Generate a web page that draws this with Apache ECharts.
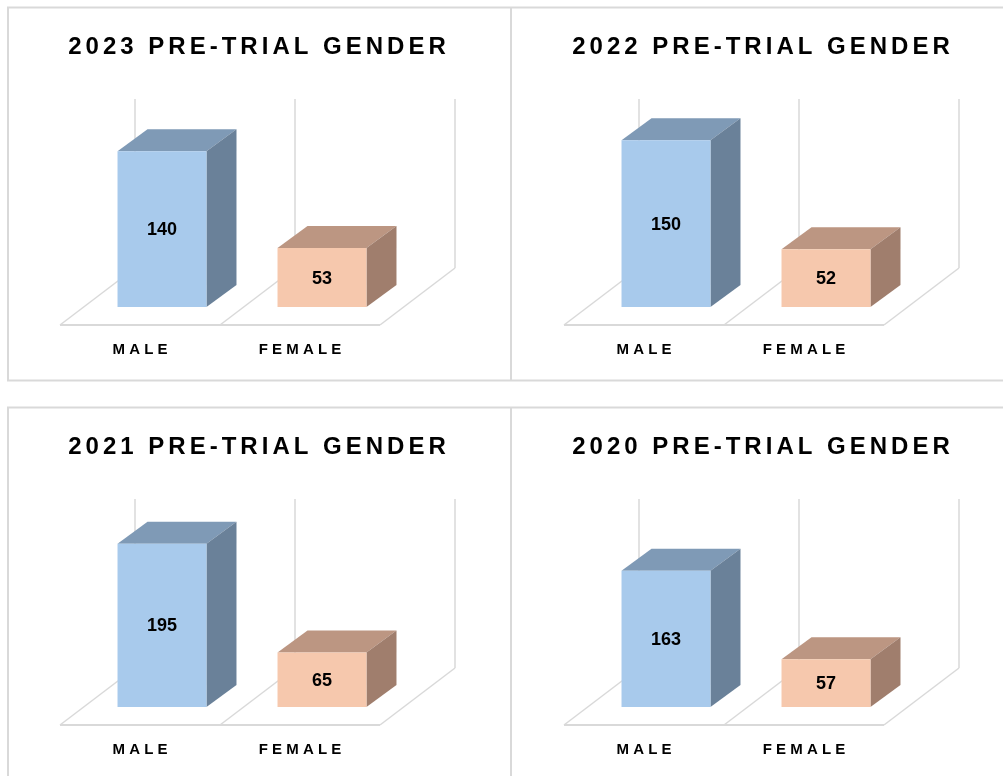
<!DOCTYPE html>
<html>
<head>
<meta charset="utf-8">
<script src="https://cdn.jsdelivr.net/npm/echarts@6/dist/echarts.min.js"></script>
<style>
  html, body { margin: 0; padding: 0; background: #fff; }
  #chart { width: 1003px; height: 776px; }
</style>
</head>
<body>
<div id="chart"></div>
<script>
// data
const years = ['2023', '2022', '2021', '2020'];
const genders = ['MALE', 'FEMALE'];
const maleCounts = [140, 150, 195, 163];
const femaleCounts = [53, 52, 65, 57];
const axisMax = [152, 152, 202, 202];

// panel offsets (one cell per year)
const panels = [[0, 0], [504, 0], [0, 400], [504, 400]];

// fake 3d geometry, in pixels
const FRONT = [22, -18];        // floor front edge -> bar front face
const BAR_DEPTH = [30, -22];
const FLOOR_DEPTH = [75, -57];

const faceColors = [
  { front: '#a8caec', top: '#7f9ab6', side: '#6a8199' },
  { front: '#f6c8ad', top: '#bc9682', side: '#a07e6d' }
];
const lineColor = '#d9d9d9';
const FONT = '"Liberation Sans", Arial, sans-serif';

// no letterSpacing in zrender, so pad letters with hair spaces
const spaced = (s, gap) => s.split('').join(gap);

const chart = echarts.init(document.getElementById('chart'));

// floor + back wall lines, one cell per category
function renderFrame(max) {
  return function (params, api) {
    const i = api.value(0);
    const base = api.coord([i, 0]);
    const top = api.coord([i, max]);
    const band = api.size([1, 0])[0];
    const y0 = base[1];
    const edges = [base[0] - band / 2];
    if (i === genders.length - 1) edges.push(base[0] + band / 2);
    const style = { stroke: lineColor, lineWidth: 1.5 };
    const children = [{
      type: 'line',
      shape: { x1: base[0] - band / 2, y1: y0, x2: base[0] + band / 2, y2: y0 },
      style: { stroke: lineColor, lineWidth: 2 }
    }];
    edges.forEach(x => {
      children.push({
        type: 'line',
        shape: { x1: x, y1: y0, x2: x + FLOOR_DEPTH[0], y2: y0 + FLOOR_DEPTH[1] },
        style: style
      });
      children.push({
        type: 'line',
        shape: {
          x1: x + FLOOR_DEPTH[0], y1: y0 + FLOOR_DEPTH[1],
          x2: x + FLOOR_DEPTH[0], y2: top[1] + FLOOR_DEPTH[1]
        },
        style: style
      });
    });
    return { type: 'group', children: children };
  };
}

function renderBar(params, api) {
  const i = api.value(0);
  const val = api.value(1);
  const base = api.coord([i, 0]);
  const top = api.coord([i, val]);
  const bw = api.size([1, 0])[0] * 0.556;
  const x0 = base[0] - bw / 2 + FRONT[0];
  const x1 = x0 + bw;
  const yB = base[1] + FRONT[1];
  const yT = top[1] + FRONT[1];
  const dx = BAR_DEPTH[0], dy = BAR_DEPTH[1];
  const c = faceColors[i];
  return {
    type: 'group',
    children: [
      {
        type: 'polygon',
        shape: { points: [[x0, yT], [x1, yT], [x1 + dx, yT + dy], [x0 + dx, yT + dy]] },
        style: { fill: c.top }
      },
      {
        type: 'polygon',
        shape: { points: [[x1, yT], [x1 + dx, yT + dy], [x1 + dx, yB + dy], [x1, yB]] },
        style: { fill: c.side }
      },
      {
        type: 'rect',
        shape: { x: x0, y: yT, width: bw, height: yB - yT },
        style: { fill: c.front }
      },
      {
        type: 'text',
        x: (x0 + x1) / 2,
        y: (yT + yB) / 2 + 1,
        style: {
          text: String(val),
          fill: '#000',
          font: 'bold 18px ' + FONT,
          align: 'center',
          verticalAlign: 'middle'
        }
      }
    ]
  };
}

const titles = [], grids = [], xAxes = [], yAxes = [], series = [];
years.forEach((year, p) => {
  const [ox, oy] = panels[p];
  titles.push({
    text: spaced(year + ' PRE-TRIAL GENDER', '\u200A\u200A'),
    left: ox + 252,
    top: oy + 30,
    textAlign: 'center',
    textStyle: { fontFamily: FONT, fontWeight: 'bold', fontSize: 24, color: '#000' }
  });
  grids.push({ left: ox + 60, top: oy + 156, width: 320, height: 169 });
  xAxes.push({
    type: 'category',
    gridIndex: p,
    data: genders,
    axisLine: { show: false },
    axisTick: { show: false },
    axisLabel: {
      margin: 17,
      color: '#000',
      fontFamily: FONT,
      fontWeight: 'bold',
      fontSize: 15,
      formatter: v => spaced(v, ' ')
    }
  });
  yAxes.push({
    type: 'value',
    gridIndex: p,
    min: 0,
    max: axisMax[p],
    show: false
  });
  series.push({
    type: 'custom',
    xAxisIndex: p,
    yAxisIndex: p,
    silent: true,
    renderItem: renderFrame(axisMax[p]),
    data: genders.map((g, i) => [i, 0])
  });
  series.push({
    type: 'custom',
    xAxisIndex: p,
    yAxisIndex: p,
    silent: true,
    renderItem: renderBar,
    data: [[0, maleCounts[p]], [1, femaleCounts[p]]]
  });
});

// cell borders
const border = { stroke: lineColor, lineWidth: 2 };
const borderLines = [
  [7, 7.5, 1003, 7.5], [7, 380.5, 1003, 380.5], [8, 7, 8, 381], [511, 7, 511, 381],
  [7, 407.5, 1003, 407.5], [8, 407, 8, 776], [511, 407, 511, 776]
];

chart.setOption({
  animation: false,
  backgroundColor: '#fff',
  title: titles,
  grid: grids,
  xAxis: xAxes,
  yAxis: yAxes,
  series: series,
  graphic: borderLines.map(l => ({
    type: 'line',
    silent: true,
    shape: { x1: l[0], y1: l[1], x2: l[2], y2: l[3] },
    style: border
  }))
});

window.addEventListener('resize', chart.resize);
</script>
</body>
</html>
